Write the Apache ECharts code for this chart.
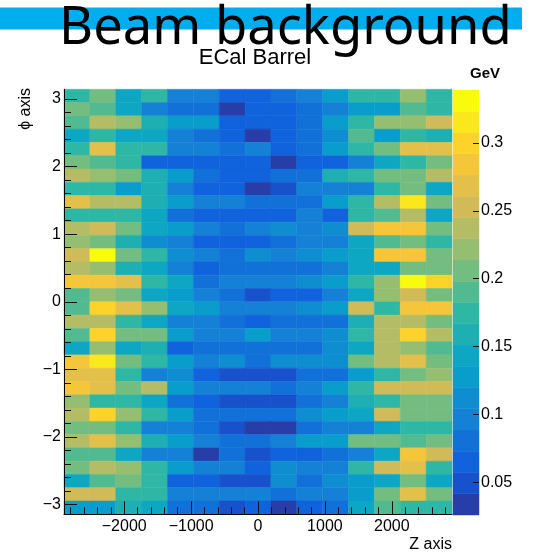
<!DOCTYPE html>
<html>
<head>
<meta charset="utf-8">
<script src="https://cdn.jsdelivr.net/npm/echarts@6/dist/echarts.min.js"></script>
<style>
  html, body { margin: 0; padding: 0; background: #fff; }
  #main { width: 533px; height: 554px; }
</style>
</head>
<body>
<div id="main"></div>
<script>
// binning of the histogram
var zRange = [-2900, 2900];
var phiRange = [-Math.PI, Math.PI];
var zTicks = [-2000, -1000, 0, 1000, 2000];
var phiTicks = [-3, -2, -1, 0, 1, 2, 3];
var gevTicks = [0.05, 0.1, 0.15, 0.2, 0.25, 0.3];
var gevRange = [0.026, 0.339];
var nLevels = 20;

// deposited energy (GeV) per bin, row 0 = top (phi ~ +pi), column 0 = z ~ -2900
var edep = [
  [0.18,0.20,0.14,0.17,0.10,0.09,0.07,0.07,0.08,0.09,0.12,0.17,0.17,0.22,0.18],
  [0.21,0.19,0.14,0.10,0.08,0.08,0.04,0.06,0.07,0.08,0.10,0.13,0.13,0.19,0.17],
  [0.19,0.23,0.22,0.16,0.13,0.12,0.07,0.07,0.07,0.08,0.13,0.17,0.22,0.22,0.25],
  [0.14,0.17,0.14,0.14,0.09,0.08,0.07,0.04,0.07,0.08,0.11,0.19,0.13,0.17,0.16],
  [0.17,0.27,0.18,0.17,0.09,0.09,0.08,0.09,0.07,0.08,0.13,0.17,0.20,0.27,0.27],
  [0.20,0.19,0.17,0.07,0.07,0.07,0.07,0.07,0.04,0.065,0.07,0.09,0.14,0.17,0.21],
  [0.23,0.22,0.20,0.16,0.12,0.08,0.06,0.07,0.08,0.08,0.16,0.17,0.20,0.21,0.24],
  [0.17,0.18,0.13,0.16,0.10,0.06,0.06,0.04,0.055,0.09,0.09,0.10,0.17,0.21,0.14],
  [0.27,0.23,0.23,0.16,0.13,0.09,0.09,0.08,0.08,0.08,0.13,0.17,0.24,0.31,0.20],
  [0.17,0.17,0.17,0.15,0.08,0.07,0.06,0.06,0.07,0.09,0.07,0.17,0.19,0.24,0.14],
  [0.24,0.26,0.21,0.14,0.12,0.10,0.08,0.10,0.11,0.09,0.11,0.25,0.28,0.28,0.21],
  [0.22,0.20,0.16,0.11,0.10,0.07,0.06,0.06,0.08,0.09,0.10,0.14,0.19,0.20,0.17],
  [0.26,0.34,0.21,0.17,0.11,0.09,0.08,0.11,0.09,0.11,0.13,0.14,0.28,0.28,0.21],
  [0.23,0.22,0.16,0.14,0.10,0.07,0.08,0.08,0.08,0.08,0.09,0.14,0.14,0.20,0.21],
  [0.29,0.29,0.27,0.17,0.14,0.08,0.10,0.09,0.10,0.11,0.13,0.17,0.22,0.34,0.30],
  [0.19,0.22,0.20,0.14,0.13,0.09,0.08,0.055,0.07,0.07,0.10,0.14,0.22,0.26,0.21],
  [0.19,0.30,0.27,0.22,0.14,0.12,0.09,0.09,0.10,0.11,0.12,0.25,0.18,0.29,0.28],
  [0.23,0.23,0.17,0.14,0.10,0.09,0.08,0.07,0.08,0.08,0.08,0.16,0.24,0.24,0.20],
  [0.19,0.30,0.21,0.20,0.13,0.10,0.09,0.12,0.10,0.10,0.11,0.17,0.24,0.30,0.24],
  [0.14,0.22,0.14,0.16,0.07,0.08,0.08,0.08,0.08,0.08,0.11,0.14,0.24,0.22,0.19],
  [0.29,0.31,0.21,0.17,0.13,0.10,0.11,0.08,0.11,0.11,0.11,0.20,0.24,0.27,0.20],
  [0.27,0.27,0.17,0.10,0.11,0.07,0.055,0.055,0.055,0.08,0.08,0.13,0.17,0.20,0.22],
  [0.29,0.27,0.20,0.24,0.13,0.10,0.09,0.10,0.08,0.09,0.13,0.18,0.25,0.25,0.25],
  [0.22,0.17,0.17,0.14,0.08,0.07,0.055,0.055,0.055,0.08,0.09,0.16,0.17,0.20,0.20],
  [0.24,0.30,0.22,0.17,0.13,0.08,0.08,0.08,0.08,0.11,0.12,0.14,0.25,0.20,0.20],
  [0.20,0.20,0.17,0.10,0.10,0.08,0.055,0.04,0.04,0.08,0.10,0.10,0.14,0.17,0.17],
  [0.24,0.27,0.22,0.16,0.13,0.09,0.08,0.08,0.10,0.13,0.12,0.21,0.20,0.19,0.21],
  [0.19,0.19,0.14,0.10,0.10,0.04,0.08,0.045,0.06,0.06,0.08,0.10,0.14,0.29,0.25],
  [0.20,0.24,0.22,0.17,0.13,0.10,0.09,0.07,0.11,0.09,0.10,0.17,0.25,0.27,0.17],
  [0.15,0.19,0.20,0.17,0.065,0.065,0.045,0.055,0.11,0.08,0.11,0.13,0.14,0.20,0.14],
  [0.25,0.25,0.17,0.17,0.09,0.09,0.09,0.09,0.08,0.10,0.10,0.13,0.20,0.27,0.20],
  [0.12,0.13,0.16,0.15,0.08,0.08,0.045,0.06,0.04,0.07,0.08,0.14,0.19,0.18,0.18]
];

// ROOT kBird palette stops
var birdR = [0.2082, 0.0592, 0.0780, 0.0232, 0.1802, 0.5301, 0.8186, 0.9956, 0.9764];
var birdG = [0.1664, 0.3599, 0.5041, 0.6419, 0.7178, 0.7492, 0.7328, 0.7862, 0.9832];
var birdB = [0.5293, 0.8684, 0.8385, 0.7914, 0.6425, 0.4662, 0.3499, 0.1968, 0.0539];

function birdColor(p) {
  var n = birdR.length - 1;
  var t = Math.max(0, Math.min(1, p)) * n;
  var i = Math.min(n - 1, Math.floor(t));
  var f = t - i;
  function ch(a) { return Math.round(255 * (a[i] + (a[i + 1] - a[i]) * f)); }
  return 'rgb(' + ch(birdR) + ',' + ch(birdG) + ',' + ch(birdB) + ')';
}

function minus(v) {
  return v < 0 ? '\u2212' + Math.abs(v) : String(v);
}

var nZ = edep[0].length, nPhi = edep.length;
var zStep = (zRange[1] - zRange[0]) / nZ;
var phiStep = (phiRange[1] - phiRange[0]) / nPhi;

var cells = [];
edep.forEach(function (row, i) {
  var yHi = phiRange[1] - i * phiStep;
  row.forEach(function (v, j) {
    var xLo = zRange[0] + j * zStep;
    cells.push([xLo, xLo + zStep, yHi - phiStep, yHi, v]);
  });
});

// colour levels (20 contours like ROOT)
var levelStep = (gevRange[1] - gevRange[0]) / nLevels;
var levels = [], pieces = [];
for (var k = 0; k < nLevels; k++) {
  var lo = gevRange[0] + k * levelStep;
  levels.push([0, 1, lo, lo + levelStep, lo + levelStep / 2]);
  var idx = Math.floor((k + 0.99) * 255 / nLevels);
  var piece = { color: birdColor(idx / 254) };
  if (k > 0) piece.gte = lo;
  if (k < nLevels - 1) piece.lt = lo + levelStep;
  pieces.push(piece);
}

var zMinor = [], phiMinor = [];
for (var z = -2800; z <= 2800; z += 200) if (z % 1000 !== 0) zMinor.push(z);
for (var q = -30; q <= 30; q += 2) if (q % 10 !== 0) phiMinor.push(q / 10);

function renderBox(params, api) {
  var a = api.coord([api.value(0), api.value(3)]);
  var b = api.coord([api.value(1), api.value(2)]);
  var c = api.visual('color');
  return {
    type: 'rect',
    shape: { x: a[0], y: a[1], width: b[0] - a[0], height: b[1] - a[1] },
    style: { fill: c, stroke: c, lineWidth: 0.5 }
  };
}

var font = 'Liberation Sans';
var labelStyle = { fontFamily: font, fontSize: 16, color: '#000' };
var tickLine = { color: '#111', width: 1 };

var myChart = echarts.init(document.getElementById('main'));
var option = {
  animation: false,
  backgroundColor: '#fff',
  grid: [
    { left: 64, top: 89.3, width: 388, height: 425 },
    { left: 453, top: 90, width: 26, height: 425 }
  ],
  xAxis: [
    {
      gridIndex: 0, type: 'value', min: zRange[0], max: zRange[1], position: 'bottom', z: 10,
      axisLine: { show: true, onZero: false, lineStyle: { color: '#000', width: 1 } },
      axisTick: { show: true, inside: true, length: 13, customValues: zTicks, lineStyle: tickLine },
      axisLabel: Object.assign({ customValues: zTicks, margin: 4, formatter: minus }, labelStyle),
      splitLine: { show: false }
    },
    {
      gridIndex: 0, type: 'value', min: zRange[0], max: zRange[1], position: 'bottom', z: 10,
      axisLine: { show: false, onZero: false },
      axisTick: { show: true, inside: true, length: 7, customValues: zMinor, lineStyle: tickLine },
      axisLabel: { show: false },
      splitLine: { show: false }
    },
    { gridIndex: 1, type: 'value', min: 0, max: 1, show: false }
  ],
  yAxis: [
    {
      gridIndex: 0, type: 'value', min: phiRange[0], max: phiRange[1], position: 'left', z: 10,
      axisLine: { show: true, onZero: false, lineStyle: { color: '#000', width: 1 } },
      axisTick: { show: true, inside: true, length: 13, customValues: phiTicks, lineStyle: tickLine },
      axisLabel: Object.assign({ customValues: phiTicks, margin: 3, formatter: minus }, labelStyle),
      splitLine: { show: false }
    },
    {
      gridIndex: 0, type: 'value', min: phiRange[0], max: phiRange[1], position: 'left', z: 10,
      axisLine: { show: false, onZero: false },
      axisTick: { show: true, inside: true, length: 7, customValues: phiMinor, lineStyle: tickLine },
      axisLabel: { show: false },
      splitLine: { show: false }
    },
    {
      gridIndex: 1, type: 'value', min: gevRange[0], max: gevRange[1], position: 'right', z: 10,
      axisLine: { show: false, onZero: false },
      axisTick: { show: true, inside: true, length: 6, customValues: gevTicks, lineStyle: tickLine },
      axisLabel: Object.assign({ customValues: gevTicks, margin: 2, formatter: function (v) { return String(+v.toFixed(2)); } }, labelStyle),
      splitLine: { show: false }
    }
  ],
  visualMap: {
    type: 'piecewise', show: false, dimension: 4, seriesIndex: [0, 1], pieces: pieces
  },
  series: [
    {
      type: 'custom', xAxisIndex: 0, yAxisIndex: 0, renderItem: renderBox, z: 1,
      encode: { x: [0, 1], y: [2, 3] }, data: cells, silent: true
    },
    {
      type: 'custom', xAxisIndex: 2, yAxisIndex: 2, renderItem: renderBox, z: 1,
      encode: { x: [0, 1], y: [2, 3] }, data: levels, silent: true
    }
  ],
  graphic: [
    { type: 'rect', shape: { x: 0, y: 7.5, width: 522, height: 22 }, style: { fill: '#00adef' }, z: 0 },
    { type: 'text', x: 59, y: 28.8, z: 2,
      style: { text: 'Beam background', font: '52.5px "Noto Sans"', fill: '#000', align: 'left', verticalAlign: 'middle' } },
    { type: 'text', x: 255, y: 57.5, z: 1,
      style: { text: 'ECal Barrel', font: '22px "Liberation Sans"', fill: '#000', align: 'center', verticalAlign: 'middle' } },
    { type: 'text', x: 500, y: 73.8, z: 1,
      style: { text: 'GeV', font: 'bold 15px "Liberation Sans"', fill: '#000', align: 'right', verticalAlign: 'middle' } },
    { type: 'text', x: 452, y: 544.5, z: 1,
      style: { text: 'Z axis', font: '16px "Liberation Sans"', fill: '#000', align: 'right', verticalAlign: 'middle' } },
    { type: 'text', x: 26, y: 88, rotation: Math.PI / 2, z: 1,
      style: { text: '\u03d5 axis', font: '16px "Liberation Sans"', fill: '#000', align: 'right', verticalAlign: 'middle' } }
  ]
};
myChart.setOption(option);
</script>
</body>
</html>
